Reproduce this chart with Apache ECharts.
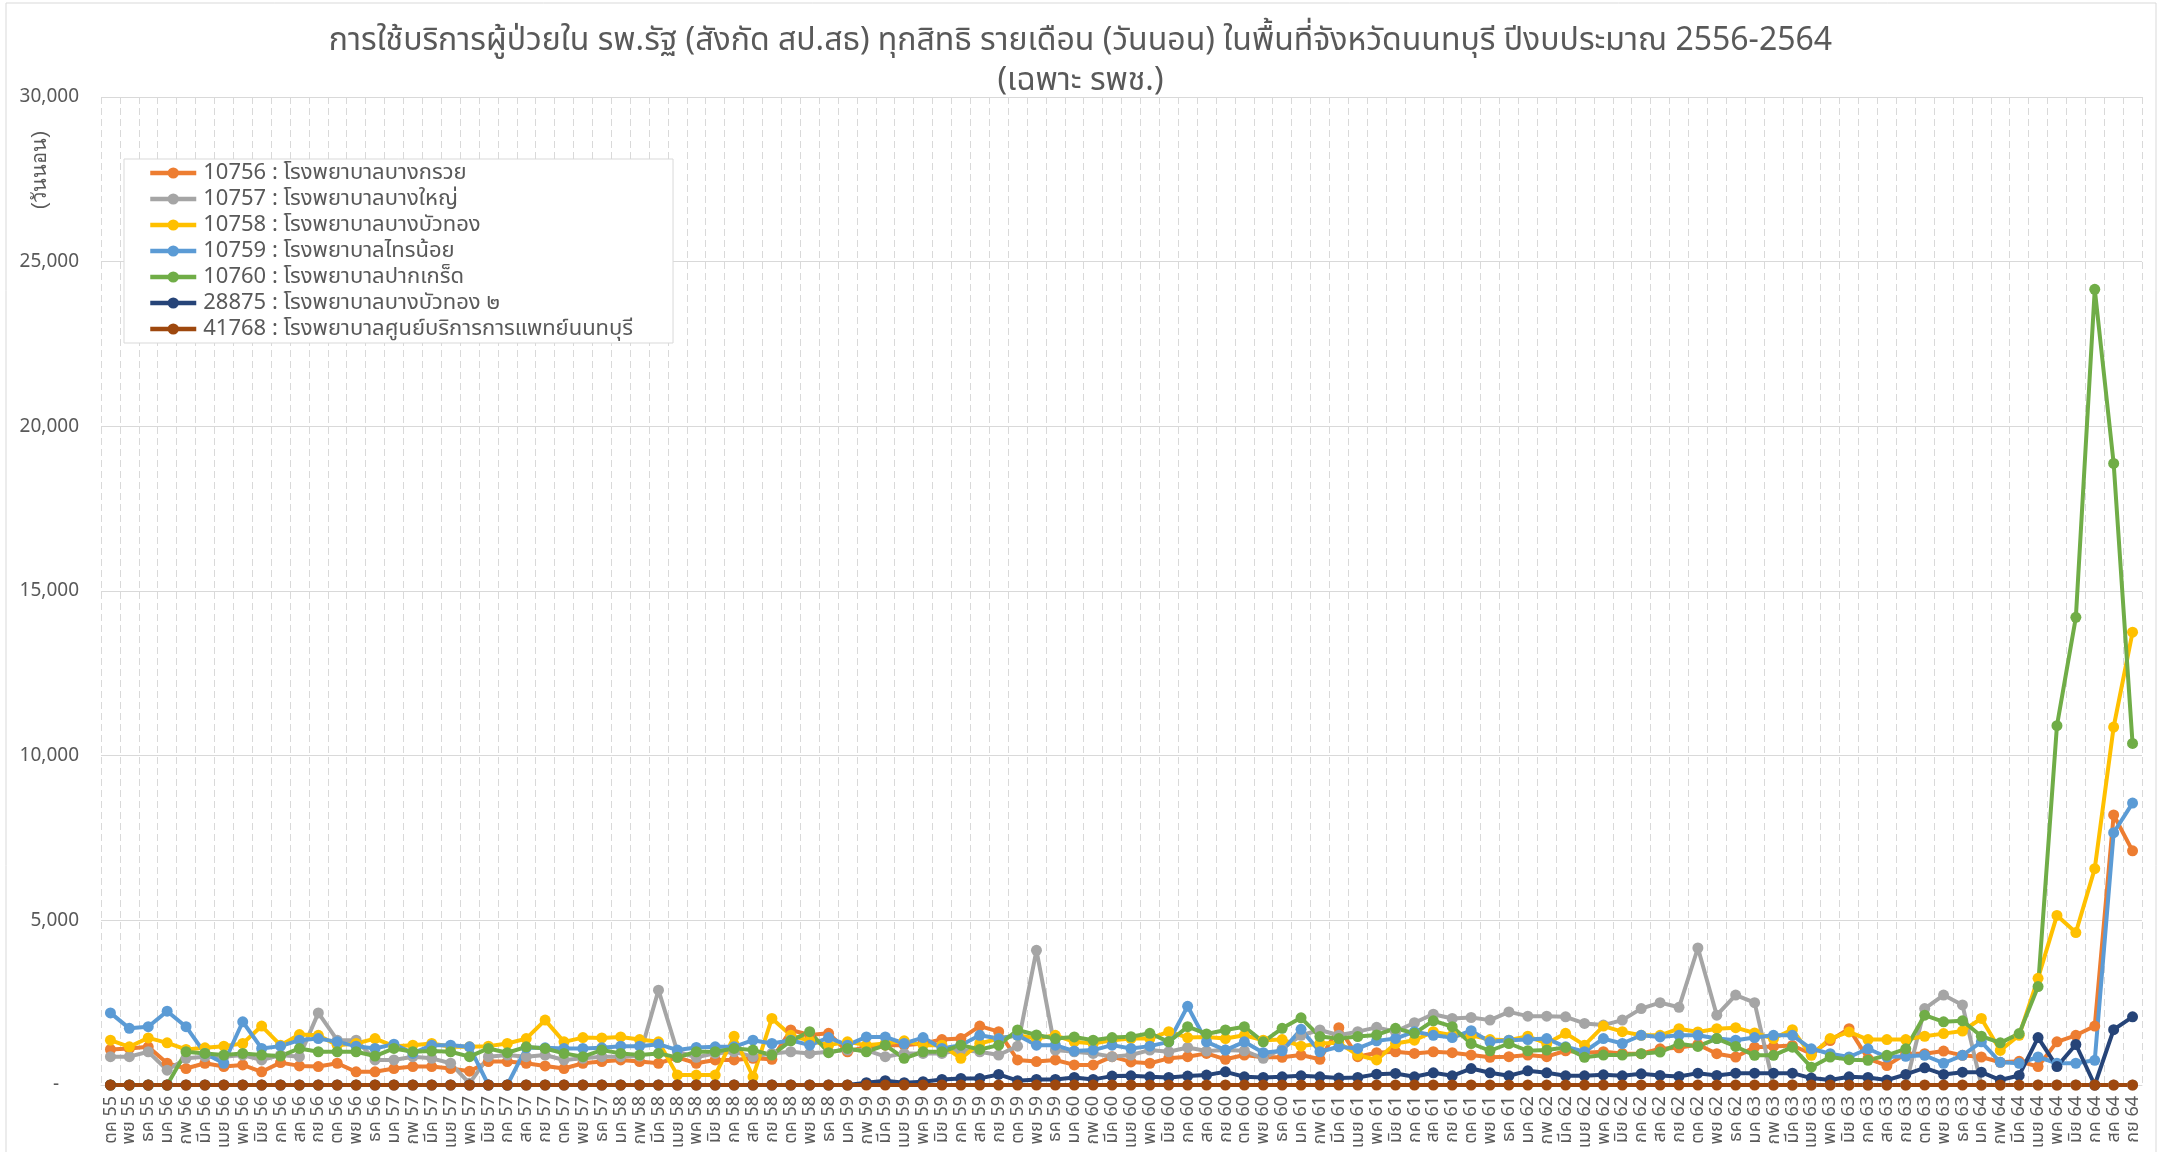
<!DOCTYPE html>
<html>
<head>
<meta charset="utf-8">
<script src="https://cdn.jsdelivr.net/npm/echarts@6/dist/echarts.min.js"></script>
<style>
html,body{margin:0;padding:0;background:#fff;}
#chart{width:2161px;height:1152px;}
</style>
</head>
<body>
<div id="chart"></div>
<script>
var titleText = 'การใช้บริการผู้ป่วยใน รพ.รัฐ (สังกัด สป.สธ) ทุกสิทธิ รายเดือน (วันนอน) ในพื้นที่จังหวัดนนทบุรี ปีงบประมาณ 2556-2564\n(เฉพาะ รพช.)';
var yAxisTitle = '(วันนอน)';

var categories = [
'ตค 55','พย 55','ธค 55','มค 56','กพ 56','มีค 56','เมย 56','พค 56','มิย 56','กค 56','สค 56','กย 56',
'ตค 56','พย 56','ธค 56','มค 57','กพ 57','มีค 57','เมย 57','พค 57','มิย 57','กค 57','สค 57','กย 57',
'ตค 57','พย 57','ธค 57','มค 58','กพ 58','มีค 58','เมย 58','พค 58','มิย 58','กค 58','สค 58','กย 58',
'ตค 58','พย 58','ธค 58','มค 59','กพ 59','มีค 59','เมย 59','พค 59','มิย 59','กค 59','สค 59','กย 59',
'ตค 59','พย 59','ธค 59','มค 60','กพ 60','มีค 60','เมย 60','พค 60','มิย 60','กค 60','สค 60','กย 60',
'ตค 60','พย 60','ธค 60','มค 61','กพ 61','มีค 61','เมย 61','พค 61','มิย 61','กค 61','สค 61','กย 61',
'ตค 61','พย 61','ธค 61','มค 62','กพ 62','มีค 62','เมย 62','พค 62','มิย 62','กค 62','สค 62','กย 62',
'ตค 62','พย 62','ธค 62','มค 63','กพ 63','มีค 63','เมย 63','พค 63','มิย 63','กค 63','สค 63','กย 63',
'ตค 63','พย 63','ธค 63','มค 64','กพ 64','มีค 64','เมย 64','พค 64','มิย 64','กค 64','สค 64','กย 64'
];

var seriesNames = [
'10756 : โรงพยาบาลบางกรวย',
'10757 : โรงพยาบาลบางใหญ่',
'10758 : โรงพยาบาลบางบัวทอง',
'10759 : โรงพยาบาลไทรน้อย',
'10760 : โรงพยาบาลปากเกร็ด',
'28875 : โรงพยาบาลบางบัวทอง ๒',
'41768 : โรงพยาบาลศูนย์บริการการแพทย์นนทบุรี'
];

var h10756 = [
1080,1110,1160,660,500,660,560,610,400,680,580,560,
660,400,400,500,560,560,500,420,710,710,660,580,
500,660,710,760,710,660,840,660,760,760,810,780,
1670,1520,1570,1010,1160,1210,1210,1260,1380,1410,1790,1620,
760,710,760,610,610,860,700,660,810,860,960,780,
910,840,840,910,780,1740,860,980,1010,960,1010,980,
910,840,860,910,860,1040,980,1010,960,950,1100,1130,
1230,950,850,1150,1170,1200,950,1350,1710,800,590,950,
950,1030,900,850,690,720,560,1310,1510,1790,8200,7110
];
var h10757 = [
860,860,1010,450,810,860,860,910,760,910,860,2190,
1360,1360,760,760,860,810,660,50,860,910,860,910,
760,810,860,860,880,2880,1010,840,960,1010,860,960,
1010,960,1010,1060,1060,860,960,960,960,1060,1010,910,
1180,4090,1060,1010,960,860,910,1060,1010,1140,1030,1060,
1040,810,1100,1510,1670,1510,1620,1750,1620,1890,2150,2020,
2050,1970,2220,2090,2090,2070,1870,1820,1970,2320,2500,2360,
4160,2120,2730,2500,0,0,0,0,0,0,0,0,
2320,2730,2430,0,0,0,0,0,0,0,0,0
];
var h10758 = [
1360,1160,1430,1280,1080,1130,1180,1260,1790,1210,1530,1510,
1210,1260,1410,1180,1210,1260,1160,1160,1180,1260,1410,1970,
1310,1440,1430,1460,1380,1310,300,300,300,1480,250,2020,
1510,1340,1210,1310,1210,1260,1340,1210,1210,810,1260,1410,
1510,1410,1510,1310,1260,1360,1410,1410,1620,1440,1460,1410,
1510,1360,1380,1180,1260,1280,910,760,1260,1360,1620,1510,
1510,1380,1360,1480,1260,1570,1210,1790,1620,1510,1510,1710,
1610,1710,1740,1580,1410,1680,900,1410,1610,1380,1380,1380,
1480,1560,1640,2020,1050,1510,3240,5150,4630,6570,10870,13750
];
var h10759 = [
2190,1720,1770,2240,1770,960,660,1920,1110,1180,1360,1410,
1310,1180,1110,1240,960,1210,1210,1160,0,0,1130,1130,
1110,1110,1130,1180,1180,1240,1060,1140,1160,1160,1360,1260,
1360,1210,1440,1210,1460,1460,1260,1440,1110,1210,1510,1410,
1510,1210,1210,1030,1060,1210,1110,1180,1310,2390,1310,1060,
1310,980,1040,1690,1010,1160,1110,1340,1410,1620,1510,1440,
1650,1310,1360,1380,1410,1160,1010,1410,1260,1510,1460,1510,
1510,1410,1360,1440,1510,1510,1100,950,850,1100,850,870,
900,660,900,1310,690,660,850,660,660,750,7660,8560
];
var h10760 = [
0,0,0,0,1010,960,910,960,910,880,1110,1010,
1010,1010,880,1110,1010,1030,1010,860,1110,980,1160,1110,
960,860,1060,960,910,960,840,1010,1010,1110,1060,910,
1340,1620,980,1110,1010,1210,810,1010,1010,1210,1080,1210,
1670,1520,1410,1460,1360,1440,1465,1570,1310,1770,1550,1670,
1770,1310,1720,2040,1470,1410,1470,1520,1720,1570,1950,1770,
1260,1040,1260,1040,1060,1140,840,910,910,950,1000,1250,
1170,1410,1170,900,900,1150,540,850,770,750,900,1100,
2120,1920,1950,1480,1280,1560,2990,10910,14200,24160,18875,10370
];
var h28875 = [
0,0,0,0,0,0,0,0,0,0,0,0,
0,0,0,0,0,0,0,0,0,0,0,0,
0,0,0,0,0,0,0,0,0,0,0,0,
0,0,0,0,70,130,70,100,170,200,200,320,
130,170,170,230,170,270,280,250,230,270,300,400,
250,230,250,280,250,210,230,330,350,250,370,280,
500,370,280,430,370,280,280,310,280,340,290,260,
360,290,360,360,360,360,210,150,250,230,150,320,
520,320,390,390,150,290,1440,560,1230,0,1680,2070
];
var h41768 = [
0,0,0,0,0,0,0,0,0,0,0,0,
0,0,0,0,0,0,0,0,0,0,0,0,
0,0,0,0,0,0,0,0,0,0,0,0,
0,0,0,0,0,0,0,0,0,0,0,0,
0,0,0,0,0,0,0,0,0,0,0,0,
0,0,0,0,0,0,0,0,0,0,0,0,
0,0,0,0,0,0,0,0,0,0,0,0,
0,0,0,0,0,0,0,0,0,0,0,0,
0,0,0,0,0,0,0,0,0,0,0,0
];

var seriesData = [h10756, h10757, h10758, h10759, h10760, h28875, h41768];
var seriesColors = ['#ED7D31','#A5A5A5','#FFC000','#5B9BD5','#70AD47','#264478','#9E480E'];

var FONT = '"Noto Sans", "Noto Sans Thai", Tahoma, sans-serif';

var chart = echarts.init(document.getElementById('chart'), null, {renderer:'canvas'});

var series = seriesNames.map(function(name, i){
  return {
    name: name,
    type: 'line',
    data: seriesData[i],
    symbol: 'circle',
    symbolSize: 11,
    showAllSymbol: true,
    lineStyle: {width: 4, color: seriesColors[i]},
    itemStyle: {color: seriesColors[i]},
    animation: false
  };
});

chart.setOption({
  backgroundColor: '#ffffff',
  animation: false,
  textStyle: {fontFamily: FONT},
  title: {
    text: titleText,
    left: 'center',
    top: 16,
    textStyle: {fontSize: 32, fontWeight: 'normal', color: '#595959', lineHeight: 40, fontFamily: FONT}
  },
  legend: {
    orient: 'vertical',
    left: 124,
    top: 159,
    padding: [3, 40, 3, 24],
    itemGap: 4,
    itemWidth: 46,
    itemHeight: 14,
    backgroundColor: '#ffffff',
    borderColor: '#d9d9d9',
    borderWidth: 1,
    data: seriesNames,
    lineStyle: {width: 4.5},
    textStyle: {fontSize: 22, color: '#595959', fontFamily: FONT, lineHeight: 22, padding: [0, 0, 0, 2]}
  },
  grid: {left: 101, right: 19, top: 97, bottom: 67, containLabel: false},
  xAxis: {
    type: 'category',
    data: categories,
    boundaryGap: true,
    axisLine: {show: true, lineStyle: {color: '#d9d9d9', width: 1}},
    axisTick: {show: false},
    axisLabel: {interval: 0, rotate: 90, fontSize: 18, color: '#595959', margin: 11, fontFamily: FONT},
    splitLine: {show: true, interval: 0, lineStyle: {color: '#d9d9d9', type: [7, 4], width: 1}}
  },
  yAxis: {
    type: 'value',
    min: 0,
    max: 30000,
    interval: 5000,
    axisLine: {show: false},
    axisTick: {show: false},
    axisLabel: {
      fontSize: 19, color: '#595959', margin: 22, fontFamily: FONT,
      formatter: function(v){ return v === 0 ? '-    ' : v.toLocaleString('en-US'); }
    },
    splitLine: {show: true, lineStyle: {color: '#d9d9d9', width: 1}}
  },
  graphic: [
    {type: 'rect', shape: {x: 6, y: 3, width: 2150, height: 1200}, style: {fill: 'none', stroke: '#d9d9d9', lineWidth: 1}, silent: true, z: -10},
    {type: 'text', x: 40, y: 170, rotation: Math.PI/2, style: {text: yAxisTitle, fontSize: 20, fill: '#595959', font: '20px ' + FONT, textAlign: 'center', textVerticalAlign: 'middle'}}
  ],
  series: series
});
</script>
</body>
</html>
